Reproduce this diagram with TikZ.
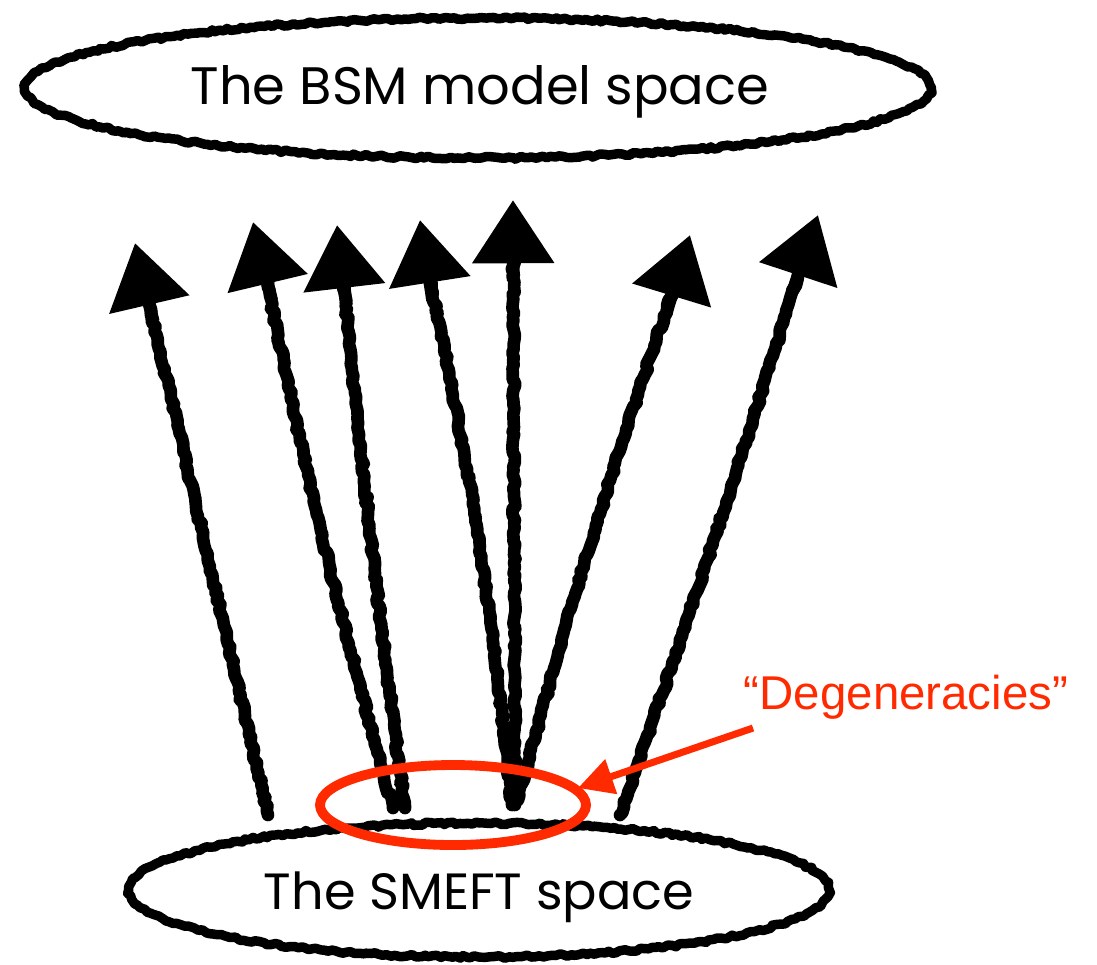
\documentclass[tikz,border=0pt]{standalone}
\usepackage{fontspec}
\setmainfont{Poppins}
\newfontfamily\labelfont{Liberation Sans}
\usetikzlibrary{arrows.meta,calc,decorations.pathmorphing}
\definecolor{degred}{HTML}{FF2A00}

\begin{document}
\begin{tikzpicture}[x=0.02cm,y=-0.02cm,
  chalk/.style={line width=5.4pt, line cap=round, line join=round,
    decorate, decoration={random steps, segment length=2.2pt, amplitude=0.8pt}},
  shaft/.style={line width=7.2pt, line cap=round, line join=round,
    decorate, decoration={random steps, segment length=2.5pt, amplitude=0.9pt}},
  tiphead/.style={line width=7.2pt, -{Triangle[length=36pt,width=45pt]}},
  spacelabel/.style={font=\fontsize{30}{35}\selectfont},
  redring/.style={draw=degred, line width=5.6pt},
  redarrow/.style={draw=degred, line width=4pt, -{Triangle[length=20pt,width=20pt]}},
  redlabel/.style={text=degred, font=\labelfont\fontsize{27}{32}\selectfont}]

\useasboundingbox (0,0) rectangle (1097,964);

% the two spaces
\node[spacelabel] (bsm) at (480,92) {The BSM model space};
\draw[chalk] (478,88) ellipse [x radius=453, y radius=70];

\node[spacelabel, font=\fontsize{29}{34}\selectfont] (smeft) at (479,897) {The SMEFT space};
\draw[chalk] (479,890) ellipse [x radius=350, y radius=67];

% arrows from SMEFT points up to BSM models
\foreach \i/\sx/\sy/\ex/\ey/\bend in {
  1/268/815/135/243/0,
  2/393/808/253/222/2,
  3/405/808/337/225/1,
  4/512/805/420/220/-3,
  5/515/805/513/200/0,
  6/518/800/690/235/2,
  7/620/815/818/215/-1}{
  \coordinate (s\i) at (\sx,\sy);
  \coordinate (e\i) at (\ex,\ey);
  \draw[shaft] (s\i) to[bend left=\bend] ($(e\i)!30pt!(s\i)$);
  \draw[tiphead] ($(e\i)!46pt!(s\i)$) -- (e\i);
}

% degeneracy marker
\draw[redring] (453,805) ellipse [x radius=133, y radius=40];
\coordinate (ringpt) at (578,788);
\node[redlabel] (deg) at (906,697) {“Degeneracies”};
\coordinate (degfoot) at (753,728);
\draw[redarrow] (degfoot) -- (ringpt);

\end{tikzpicture}
\end{document}
